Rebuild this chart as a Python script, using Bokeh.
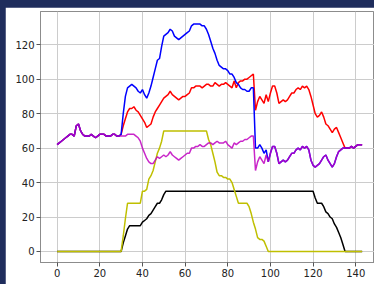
from bokeh.plotting import figure
from bokeh.embed import file_html
from bokeh.resources import INLINE
from bokeh.models import FixedTicker, Range1d

x = list(range(144))

magenta = [62, 63, 64, 65, 66, 67, 68, 68, 67, 73,
           74, 70, 68, 67, 67, 67, 68, 67, 66, 67,
           68, 68, 68, 67, 67, 67, 68, 68, 67, 67,
           67, 67, 67, 68, 68, 68, 68, 67, 66, 64,
           60, 57, 54, 52, 51, 51, 53, 55, 54, 55,
           56, 55, 56, 58, 56, 55, 54, 53, 54, 55,
           56, 57, 57, 60, 60, 61, 61, 62, 61, 61,
           62, 63, 63, 62, 63, 64, 63, 63, 63, 64,
           62, 61, 60, 63, 62, 63, 64, 64, 65, 65,
           66, 67, 67, 47, 52, 55, 53, 51, 56, 52,
           57, 61, 61, 57, 51, 52, 53, 52, 53, 55,
           57, 57, 59, 60, 59, 61, 60, 61, 59, 53,
           50, 49, 50, 51, 53, 55, 56, 53, 51, 49,
           51, 55, 58, 59, 60, 60, 60, 60, 61, 60,
           61, 62, 62, 62]

red = [62, 63, 64, 65, 66, 67, 68, 68, 67, 73,
       74, 70, 68, 67, 67, 67, 68, 67, 66, 67,
       68, 68, 68, 67, 67, 67, 68, 68, 67, 67,
       68, 73, 77, 81, 83, 83, 84, 82, 81, 79,
       77, 75, 72, 73, 74, 78, 81, 83, 85, 87,
       89, 90, 91, 93, 91, 90, 89, 88, 89, 90,
       90, 91, 92, 95, 95, 96, 96, 96, 95, 96,
       97, 97, 96, 96, 98, 97, 96, 97, 97, 98,
       97, 96, 95, 99, 95, 98, 99, 99, 100, 100,
       101, 102, 103, 82, 87, 90, 88, 86, 91, 87,
       92, 96, 96, 92, 86, 87, 88, 87, 88, 90,
       92, 92, 94, 95, 94, 96, 95, 96, 94, 90,
       85, 80, 78, 79, 81, 78, 74, 73, 71, 69,
       71, 72, 69, 66, 63, 60, 60, 60, 61, 60,
       61, 62, 62, 62]

blue = [62, 63, 64, 65, 66, 67, 68, 68, 67, 73,
        74, 70, 68, 67, 67, 67, 68, 67, 66, 67,
        68, 68, 68, 67, 67, 67, 68, 68, 67, 67,
        68, 80, 90, 95, 96, 97, 96, 95, 93, 92,
        94, 91, 89, 92, 96, 101, 106, 111, 112, 119,
        125, 126, 127, 129, 128, 125, 124, 123, 124, 125,
        126, 127, 128, 131, 132, 132, 132, 132, 131, 131,
        129, 126, 122, 118, 115, 111, 108, 107, 106, 106,
        105, 103, 103, 101, 98, 97, 95, 94, 94, 93,
        93, 95, 95, 60, 60, 62, 60, 57, 59, 52,
        57, 61, 61, 57, 51, 52, 53, 52, 53, 55,
        57, 57, 59, 60, 59, 61, 60, 61, 59, 53,
        50, 49, 50, 51, 53, 55, 56, 53, 51, 49,
        51, 55, 58, 59, 60, 60, 60, 60, 61, 60,
        61, 62, 62, 62]

yellow = [0] * 31 + [9, 19, 28] + [28] * 6 + \
         [35, 35, 36, 42, 44, 47, 52, 57, 60, 64] + [70] * 21 + \
         [65, 62, 57, 52, 46, 44, 44, 43, 43, 42, 42, 40, 36, 32,
          28, 28, 28, 28, 28, 26, 22, 17, 13, 8, 7, 7, 6, 3] + [0] * 45

black = [0] * 31 + [5, 9, 13] + [15] * 6 + \
        [17, 18, 19, 21, 22, 24, 26, 28, 28, 30] + [33] + [35] * 70 + \
        [31, 28, 28, 28, 26, 23, 22, 20, 19, 16, 14, 11, 8, 4] + [0] * 9

xticks = [0, 20, 40, 60, 80, 100, 120, 140]
yticks = [0, 20, 40, 60, 80, 100, 120]

p = figure(width=369, height=277, output_backend="svg", toolbar_location=None,
           x_range=Range1d(-7.8, 148.8), y_range=Range1d(-6.4, 139.3),
           min_border_left=35, min_border_right=0, min_border_top=4,
           min_border_bottom=22)

p.background_fill_color = "white"
p.border_fill_color = "white"
p.outline_line_color = "#8c8c8c"
p.outline_line_width = 1

p.xaxis.ticker = FixedTicker(ticks=xticks)
p.yaxis.ticker = FixedTicker(ticks=yticks)
for ax in (p.xaxis, p.yaxis):
    ax.major_label_text_font = "DejaVu Sans"
    ax.major_label_text_font_size = "10px"
    ax.major_label_text_color = "#222222"
    ax.major_tick_out = 4
    ax.major_tick_in = 0
    ax.minor_tick_out = 0
    ax.minor_tick_in = 0
    ax.major_tick_line_color = "#555555"
    ax.axis_line_color = "#8c8c8c"
    ax.major_label_standoff = 2
p.grid.grid_line_color = "#cccccc"
p.grid.grid_line_width = 1

p.line(x, black, line_color="black", line_width=1.5)
p.line(x, yellow, line_color="#bfbf00", line_width=1.5)
p.line(x, red, line_color="#ff0000", line_width=1.5)
p.line(x, blue, line_color="#0000ff", line_width=1.5)
p.line(x, magenta, line_color="#bf00bf", line_width=1.5, line_alpha=0.85)

html = file_html(p, INLINE)
css = ("<style>html, body { background-color: #1f2d5c; margin: 0; "
       "overflow: hidden; } body { padding: 7px 0 0 5px; }</style>")
html = html.replace("</head>", css + "</head>", 1)
open("out.html", "w").write(html)
